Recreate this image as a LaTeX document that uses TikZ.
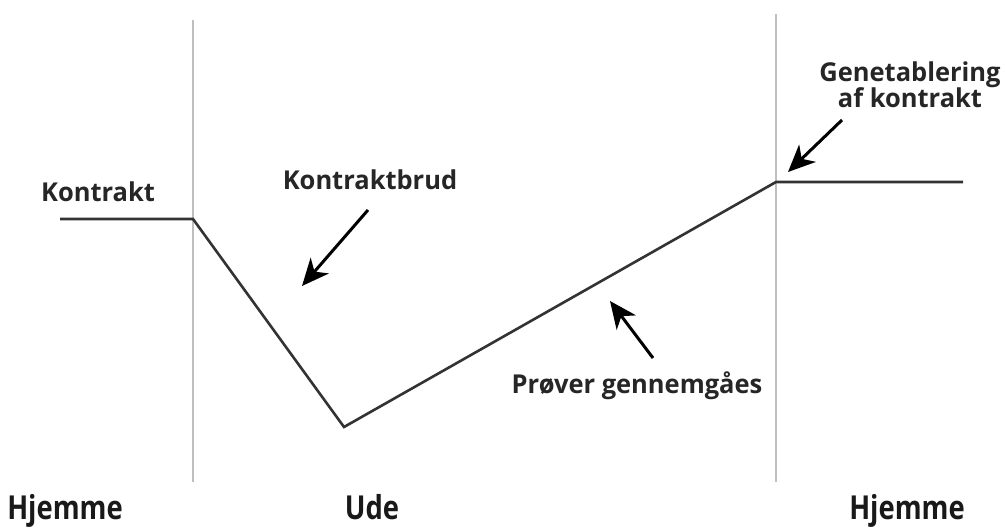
\documentclass[tikz,border=0pt]{standalone}
\usepackage{fontspec}
\setmainfont{Open Sans}
\usetikzlibrary{arrows.meta}
\begin{document}
\begin{tikzpicture}[x=1pt,y=-1pt,
  guide/.style={draw=black!25,line width=1.2pt},
  curve/.style={draw=black!80,line width=2.6pt,line join=miter},
  pointer/.style={draw=black,line width=3pt,-{Stealth[length=27pt,width=24pt,inset=8pt]}},
  lbl/.style={font=\bfseries\fontsize{26}{29}\selectfont,text=black!85,inner sep=0pt,align=center,anchor=base,xscale=0.98},
  big/.style={font=\bfseries\fontsize{33}{38}\selectfont,text=black!90,inner sep=0pt,anchor=base,xscale=0.83}]
\useasboundingbox (0,0) rectangle (1007,529);
\fill[white] (0,0) rectangle (1007,529);
% guides
\coordinate (g1t) at (193,20); \coordinate (g1b) at (193,482);
\coordinate (g2t) at (776,14); \coordinate (g2b) at (776,482);
\draw[guide] (g1t) -- (g1b);
\draw[guide] (g2t) -- (g2b);
% curve
\coordinate (p0) at (60,219);
\coordinate (p1) at (193,219);
\coordinate (p2) at (344,427);
\coordinate (p3) at (776,182);
\coordinate (p4) at (963,182);
\draw[curve] (p0) -- (p1) -- (p2) -- (p3) -- (p4);
% labels
\node[lbl] (kon) at (98,202) {Kontrakt};
\node[lbl] (brud) at (370,190) {Kontraktbrud};
\node[lbl] (gen1) at (910,82) {Genetablering};
\node[lbl] (gen2) at (910,108) {af kontrakt};
\node[lbl] (prov) at (637,393) {Prøver gennemgåes};
\node[big] (h1) at (65,519) {Hjemme};
\node[big] (ude) at (372,519) {Ude};
\node[big] (h2) at (907,519) {Hjemme};
% arrows
\coordinate (a1s) at (368,210); \coordinate (a1e) at (302,286);
\coordinate (a2s) at (842,120); \coordinate (a2e) at (788,172);
\coordinate (a3s) at (653,358); \coordinate (a3e) at (610,301);
\draw[pointer] (a1s) -- (a1e);
\draw[pointer] (a2s) -- (a2e);
\draw[pointer] (a3s) -- (a3e);
\end{tikzpicture}
\end{document}
